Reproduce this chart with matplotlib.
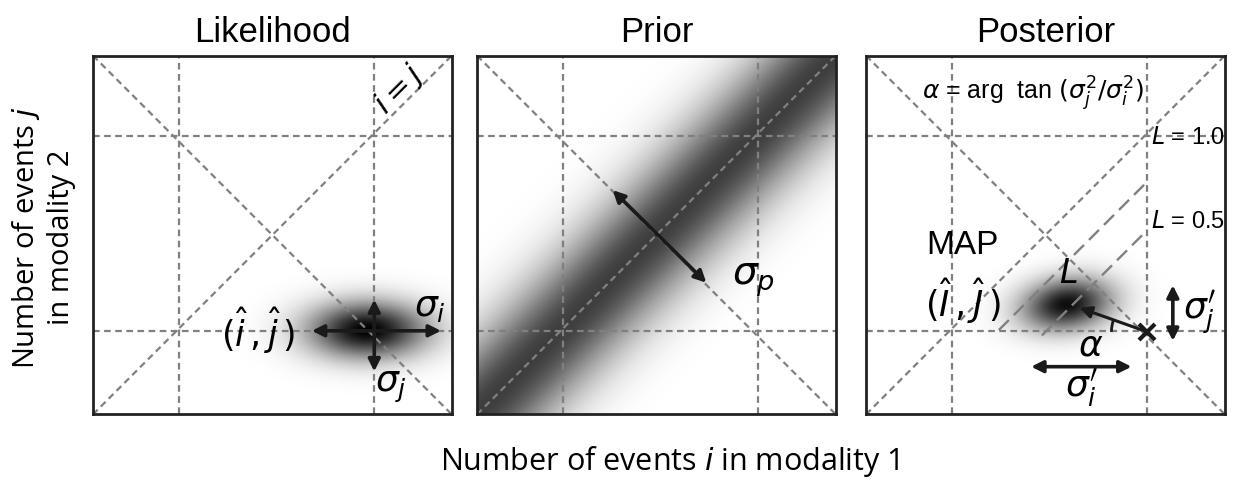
import matplotlib
matplotlib.use('Agg')
import matplotlib.pyplot as plt
import numpy as np
from matplotlib.patches import Arc

plt.rcParams['font.family'] = ['Liberation Sans', 'DejaVu Sans']
plt.rcParams['mathtext.fontset'] = 'dejavusans'

# panel titles and axis labels
titles = ['Likelihood', 'Prior', 'Posterior']
xlabel = 'Number of events $i$ in modality 1'
ylabel = 'Number of events $j$\nin modality 2'

# grid positions (fraction of the box)
grid_x = [0.24, 0.784]
grid_y = [0.233, 0.775]

# likelihood blob: centre, widths, darkness
lik_center = [0.765, 0.233]
lik_sigma = [0.115, 0.055]
lik_peak = 1.0

# prior band along i = j
prior_sigma = 0.105
prior_peak = 0.76
prior_arrow = [[0.378, 0.625], [0.639, 0.367]]

# posterior blob
post_center = [0.56, 0.305]
post_sigma = [0.088, 0.05]
post_peak = 0.95
post_tilt = 8  # degrees
map_estimate = [0.595, 0.297]
ml_point = [0.784, 0.23]
# lines of constant L parallel to i = j: (offset, x start)
l_lines = [(-0.135, 0.37), (-0.27, 0.49)]

fig = plt.figure(figsize=(12.33, 4.8), dpi=100)
lefts = [0.0754, 0.3869, 0.7024]
axes = [fig.add_axes([l, 0.1354, 0.291, 0.75]) for l in lefts]

gx, gy = np.meshgrid(np.linspace(0, 1, 400), np.linspace(0, 1, 400))


def gray_image(ax, a):
    rgba = np.zeros(a.shape + (4,))
    rgba[..., 3] = np.clip(a, 0, 1)
    ax.imshow(rgba, extent=[0, 1, 0, 1], origin='lower', zorder=0,
              interpolation='bilinear')


def arrow(ax, p0, p1, both=True, lw=2.6):
    style = '<|-|>' if both else '-|>'
    ax.annotate('', xy=p1, xytext=p0,
                arrowprops=dict(arrowstyle=style + ',head_length=0.7,head_width=0.35',
                                lw=lw, color='#1a1a1a', shrinkA=0, shrinkB=0),
                zorder=5)


grid_kw = dict(color='#808080', lw=1.6, ls=(0, (3, 2)), zorder=2)
for ax, title in zip(axes, titles):
    ax.set_xlim(0, 1)
    ax.set_ylim(0, 1)
    ax.set_xticks([])
    ax.set_yticks([])
    for s in ax.spines.values():
        s.set_linewidth(2)
        s.set_color('#222222')
    for x in grid_x:
        ax.plot([x, x], [0, 1], **grid_kw)
    for y in grid_y:
        ax.plot([0, 1], [y, y], **grid_kw)
    ax.plot([0, 1], [0, 1], **grid_kw)
    ax.plot([0, 1], [1, 0], **grid_kw)
    ax.set_title(title, fontsize=25, pad=10)

# ---------- Likelihood ----------
ax = axes[0]
a = lik_peak * np.exp(-0.5 * (((gx - lik_center[0]) / lik_sigma[0]) ** 2 +
                              ((gy - lik_center[1]) / lik_sigma[1]) ** 2))
gray_image(ax, a)
cx, cy = grid_x[1], grid_y[0]
arrow(ax, (0.61, cy), (0.97, cy))
arrow(ax, (cx, 0.32), (cx, 0.12))
ax.text(0.46, cy, r'$(\hat{i}\,,\hat{j}\,)$', fontsize=25, ha='center', va='center')
ax.text(0.94, 0.30, r'$\sigma_i$', fontsize=26, ha='center', va='center')
ax.text(0.83, 0.075, r'$\sigma_j$', fontsize=26, ha='center', va='center')
ax.text(0.855, 0.905, r'$i=j$', fontsize=22, ha='center', va='center', rotation=45)

# ---------- Prior ----------
ax = axes[1]
d = (gx - gy) / np.sqrt(2)
gray_image(ax, prior_peak * np.exp(-0.5 * (d / prior_sigma) ** 2))
arrow(ax, prior_arrow[0], prior_arrow[1])
ax.text(0.77, 0.375, r'$\sigma_p$', fontsize=28, ha='center', va='center')

# ---------- Posterior ----------
ax = axes[2]
t = np.deg2rad(post_tilt)
u = (gx - post_center[0]) * np.cos(t) + (gy - post_center[1]) * np.sin(t)
v = -(gx - post_center[0]) * np.sin(t) + (gy - post_center[1]) * np.cos(t)
gray_image(ax, post_peak * np.exp(-0.5 * ((u / post_sigma[0]) ** 2 + (v / post_sigma[1]) ** 2)))
for off, x0 in l_lines:
    ax.plot([x0, grid_x[1]], [x0 + off, grid_x[1] + off], color='#808080', lw=1.7,
            ls=(0, (6, 3)), zorder=2)
ax.plot(*ml_point, marker='x', ms=11, mew=3, color='#1a1a1a', zorder=6)
arrow(ax, ml_point, map_estimate, both=False, lw=2.2)
ang = np.degrees(np.arctan2(map_estimate[1] - ml_point[1], map_estimate[0] - ml_point[0]))
ax.add_patch(Arc(ml_point, 0.2, 0.2, theta1=ang, theta2=180, lw=2, color='#1a1a1a', zorder=6))
arrow(ax, (0.46, 0.133), (0.74, 0.133))
arrow(ax, (0.855, 0.36), (0.855, 0.205))
ax.text(0.60, 0.075, r"$\sigma_i'$", fontsize=26, ha='center', va='center')
ax.text(0.93, 0.285, r"$\sigma_j'$", fontsize=26, ha='center', va='center')
ax.text(0.625, 0.19, r'$\alpha$', fontsize=26, ha='center', va='center')
ax.text(0.565, 0.39, r'$L$', fontsize=24, ha='center', va='center')
ax.text(0.27, 0.47, 'MAP', fontsize=24, ha='center', va='center')
ax.text(0.27, 0.315, r'$(\hat{I}\,,\hat{J}\,)$', fontsize=25, ha='center', va='center')
ax.text(0.795, 0.77, r'$L$ = 1.0', fontsize=17, ha='left', va='center')
ax.text(0.795, 0.535, r'$L$ = 0.5', fontsize=17, ha='left', va='center')
ax.text(0.465, 0.895, r'$\alpha$ = arg  tan $(\sigma_j^2/\sigma_i^2)$', fontsize=18,
        ha='center', va='center')

fig.text(0.543, 0.038, xlabel, fontsize=22, ha='center', va='center',
         family=['Open Sans', 'DejaVu Sans'])
fig.text(0.035, 0.505, ylabel, fontsize=21, ha='center', va='center', rotation=90,
         multialignment='center', family=['Open Sans', 'DejaVu Sans'])

fig.savefig('out.png', dpi=100)
